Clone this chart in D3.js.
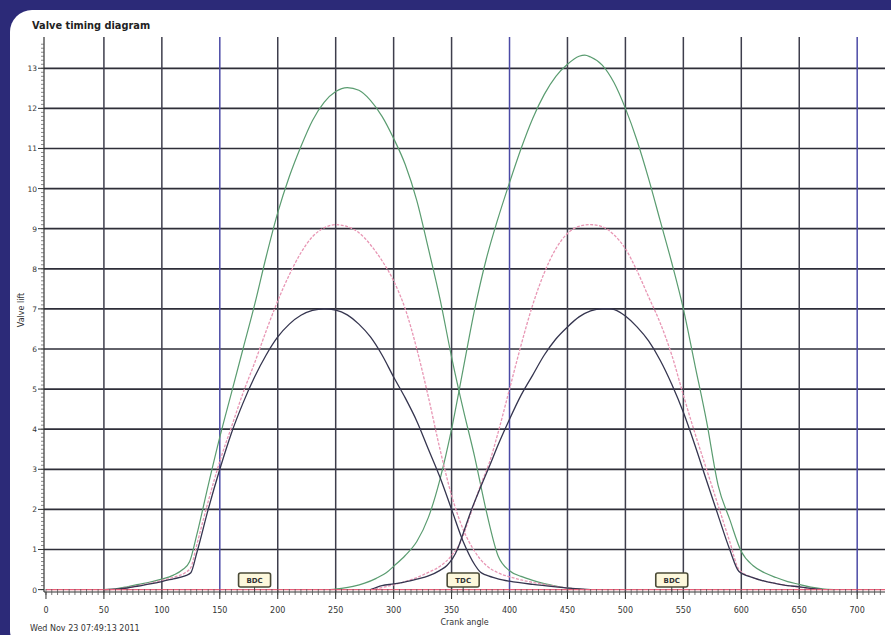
<!DOCTYPE html>
<html><head><meta charset="utf-8">
<script src="https://cdn.jsdelivr.net/npm/d3@7"></script>
<style>body{margin:0;background:#2c2a78;overflow:hidden}svg{display:block}</style>
</head><body>
<svg id="c" width="891" height="635"></svg>
<script>
const title = "Valve timing diagram";
const xLabel = "Crank angle";
const yLabel = "Valve lift";
const timestamp = "Wed Nov 23 07:49:13 2011";
const xTicks = [0,50,100,150,200,250,300,350,400,450,500,550,600,650,700];
const yTicks = [0,1,2,3,4,5,6,7,8,9,10,11,12,13];
const markerLabels = ["BDC","TDC","BDC"];
const markerAngles = [180,360,540];

// [crank angle, valve lift]
const green1 = [[50,0],[60,0.02],[70,0.07],[80,0.13],[90,0.19],[100,0.26],[110,0.36],[118,0.5],[124,0.7],[130,1.35],[140,2.6],[150,3.8],[160,4.9],[170,6.0],[180,7.1],[190,8.3],[200,9.4],[210,10.3],[220,11.05],[230,11.7],[240,12.15],[250,12.42],[260,12.52],[270,12.45],[280,12.2],[290,11.8],[300,11.25],[310,10.6],[320,9.7],[330,8.5],[340,7.25],[350,5.8],[360,4.5],[370,3.3],[380,1.95],[390,0.85],[400,0.47],[410,0.33],[420,0.23],[430,0.15],[440,0.09],[450,0.04],[460,0.01],[465,0]];
const pink1 = [[50,0],[60,0.01],[70,0.05],[80,0.1],[90,0.16],[100,0.23],[110,0.31],[120,0.42],[125,0.55],[130,1.1],[140,2.2],[150,3.2],[160,4.05],[170,4.9],[180,5.65],[190,6.45],[200,7.2],[210,7.85],[220,8.4],[230,8.8],[240,9.02],[250,9.1],[260,9.05],[270,8.9],[280,8.6],[290,8.2],[300,7.7],[310,7.0],[320,6.0],[330,4.8],[340,3.5],[350,2.35],[360,1.5],[370,0.95],[380,0.6],[390,0.42],[400,0.32],[410,0.24],[420,0.18],[430,0.13],[440,0.08],[450,0.04],[460,0.01],[465,0]];
const dark1 = [[50,0],[60,0.01],[70,0.04],[80,0.09],[90,0.14],[100,0.2],[110,0.27],[120,0.34],[125,0.42],[130,0.9],[140,2.0],[150,3.0],[160,3.9],[170,4.65],[180,5.3],[190,5.85],[200,6.3],[210,6.62],[220,6.84],[230,6.96],[240,7.0],[250,6.97],[260,6.85],[270,6.62],[280,6.3],[290,5.85],[300,5.3],[310,4.78],[320,4.2],[330,3.5],[340,2.8],[350,2.0],[360,1.2],[370,0.62],[375,0.43],[380,0.36],[390,0.27],[400,0.21],[420,0.13],[440,0.07],[460,0.02],[470,0]];
const green2 = [[245,0],[255,0.03],[265,0.08],[275,0.16],[285,0.28],[295,0.45],[300,0.58],[310,0.85],[320,1.2],[330,1.8],[340,2.75],[350,4.0],[360,5.5],[370,7.0],[380,8.25],[390,9.25],[400,10.15],[410,11.0],[420,11.75],[430,12.35],[440,12.8],[450,13.1],[460,13.3],[465,13.33],[470,13.28],[480,13.08],[490,12.65],[500,12.0],[510,11.2],[520,10.25],[530,9.2],[540,8.15],[550,7.0],[560,5.6],[570,4.2],[580,2.6],[590,1.75],[600,0.95],[610,0.6],[620,0.42],[630,0.3],[640,0.2],[650,0.13],[660,0.06],[670,0.02],[680,0]];
const pink2 = [[280,0],[290,0.05],[300,0.12],[310,0.2],[320,0.3],[330,0.43],[340,0.58],[350,0.85],[358,1.2],[366,1.85],[375,2.6],[383,3.2],[390,3.9],[400,5.0],[410,6.1],[420,7.1],[430,7.9],[440,8.5],[450,8.88],[460,9.06],[470,9.1],[480,9.05],[490,8.85],[500,8.5],[510,7.95],[520,7.3],[530,6.65],[540,5.85],[550,4.85],[560,3.9],[570,3.0],[580,2.1],[590,1.2],[598,0.5],[610,0.3],[620,0.21],[630,0.15],[640,0.1],[650,0.06],[660,0.03],[670,0]];
const dark2 = [[280,0],[290,0.1],[300,0.14],[310,0.19],[320,0.26],[330,0.34],[340,0.48],[346,0.6],[355,1.0],[360,1.4],[366,1.9],[375,2.55],[383,3.1],[390,3.6],[400,4.25],[410,4.85],[420,5.35],[430,5.85],[440,6.25],[450,6.55],[460,6.8],[470,6.95],[480,7.0],[487,7.0],[495,6.92],[500,6.82],[510,6.55],[520,6.2],[530,5.72],[540,5.12],[550,4.42],[560,3.6],[570,2.72],[580,1.85],[590,1.0],[598,0.45],[610,0.3],[620,0.21],[630,0.15],[640,0.1],[650,0.07],[660,0.03],[670,0]];
const baseline = [[0,0],[724,0]];

const svg = d3.select("#c");
const W = 891, H = 635;
svg.append("rect").attr("width",W).attr("height",H).attr("fill","#2c2a78");
svg.append("path").attr("d","M10,32 A22,22 0 0 1 32,10 H900 V645 H24 A14,14 0 0 1 10,631 Z").attr("fill","#ffffff");

const L = 44, R = 885, T = 37, B = 592;
const x = d3.scaleLinear().domain([-1.7, 724]).range([L, R]);
const y = d3.scaleLinear().domain([-0.06, 13.78]).range([B, T]);

const font = "'DejaVu Sans', Verdana, sans-serif";
const g = svg.append("g");

// grid
g.selectAll(".hg").data(yTicks.filter(d=>d>0)).enter().append("line")
  .attr("x1",L).attr("x2",R).attr("y1",d=>y(d)).attr("y2",d=>y(d))
  .attr("stroke","#2e2e38").attr("stroke-width",1.7);
const blueLines = [150,400,700];
g.selectAll(".vg").data(xTicks.filter(d=>d>0)).enter().append("line")
  .attr("x1",d=>x(d)).attr("x2",d=>x(d)).attr("y1",T).attr("y2",B)
  .attr("stroke",d=>blueLines.includes(d)?"#4b4aa6":"#3e3e4c").attr("stroke-width",1.5);

// curves
const line = d3.line().x(d=>x(d[0])).y(d=>y(d[1])).curve(d3.curveMonotoneX);
const series = [
  {d:green1,c:"#5a9c70",w:1.2,dash:null},
  {d:green2,c:"#5a9c70",w:1.2,dash:null},
  {d:pink1,c:"#e896b4",w:1.3,dash:"3,1.5"},
  {d:pink2,c:"#e896b4",w:1.3,dash:"3,1.5"},
  {d:dark1,c:"#35354f",w:1.3,dash:null},
  {d:dark2,c:"#35354f",w:1.3,dash:null}
];
g.selectAll(".s").data(series).enter().append("path")
  .attr("d",s=>line(s.d)).attr("fill","none").attr("stroke",s=>s.c)
  .attr("stroke-width",s=>s.w).attr("stroke-dasharray",s=>s.dash);
g.append("path").attr("d",line(baseline)).attr("fill","none").attr("stroke","#e8607a").attr("stroke-width",1.3);

// axes
const ax = svg.append("g");
ax.append("line").attr("x1",L).attr("x2",L).attr("y1",T).attr("y2",B).attr("stroke","#333").attr("stroke-width",1.2);
ax.append("line").attr("x1",L).attr("x2",R).attr("y1",B).attr("y2",B).attr("stroke","#333").attr("stroke-width",1.2);
const yMinor = d3.range(0, 137).map(i=>i/10);
ax.selectAll(".ym").data(yMinor).enter().append("line")
  .attr("x1",L-3).attr("x2",L).attr("y1",d=>y(d)).attr("y2",d=>y(d)).attr("stroke","#555").attr("stroke-width",0.7);
ax.selectAll(".yM").data(yTicks).enter().append("line")
  .attr("x1",L-6).attr("x2",L).attr("y1",d=>y(d)).attr("y2",d=>y(d)).attr("stroke","#333").attr("stroke-width",1);
ax.selectAll(".yl").data(yTicks).enter().append("text")
  .attr("x",L-7).attr("y",d=>y(d)+3).attr("text-anchor","end")
  .attr("font-family",font).attr("font-size",7.5).attr("fill","#333").text(d=>d);
const xMinor = d3.range(0, 145).map(i=>i*5);
ax.selectAll(".xm").data(xMinor).enter().append("line")
  .attr("x1",d=>x(d)).attr("x2",d=>x(d)).attr("y1",B-3).attr("y2",B+3).attr("stroke","#555").attr("stroke-width",0.8);
ax.selectAll(".xM").data(xTicks).enter().append("line")
  .attr("x1",d=>x(d)).attr("x2",d=>x(d)).attr("y1",B).attr("y2",B+7).attr("stroke","#333").attr("stroke-width",1);
ax.selectAll(".xl").data(xTicks).enter().append("text")
  .attr("x",d=>x(d)).attr("y",B+21).attr("text-anchor","middle")
  .attr("font-family",font).attr("font-size",8).attr("fill","#333").text(d=>d);

// markers
const mk = svg.selectAll(".mk").data(markerAngles.map((a,i)=>({a,l:markerLabels[i]}))).enter().append("g");
mk.append("line").attr("x1",d=>x(d.a)).attr("x2",d=>x(d.a)).attr("y1",587).attr("y2",B).attr("stroke","#444").attr("stroke-width",1);
mk.append("rect").attr("x",d=>x(d.a)-16).attr("y",573).attr("width",32).attr("height",14).attr("rx",2)
  .attr("fill","#fdf8dc").attr("stroke","#4a4a36").attr("stroke-width",1.6);
mk.append("text").attr("x",d=>x(d.a)).attr("y",583).attr("text-anchor","middle")
  .attr("font-family",font).attr("font-size",7).attr("font-weight","bold").attr("fill","#333").text(d=>d.l);

// texts
svg.append("text").attr("x",32).attr("y",29).attr("font-family",font).attr("font-size",9.8).attr("font-weight","bold").attr("fill","#222").text(title);
svg.append("text").attr("x",(L+R)/2).attr("y",625).attr("text-anchor","middle").attr("font-family",font).attr("font-size",8).attr("fill","#333").text(xLabel);
svg.append("text").attr("transform","translate(24,310) rotate(-90)").attr("text-anchor","middle").attr("font-family",font).attr("font-size",8).attr("fill","#333").text(yLabel);
svg.append("text").attr("x",30).attr("y",631).attr("font-family",font).attr("font-size",8).attr("fill","#333").text(timestamp);
</script>
</body></html>
